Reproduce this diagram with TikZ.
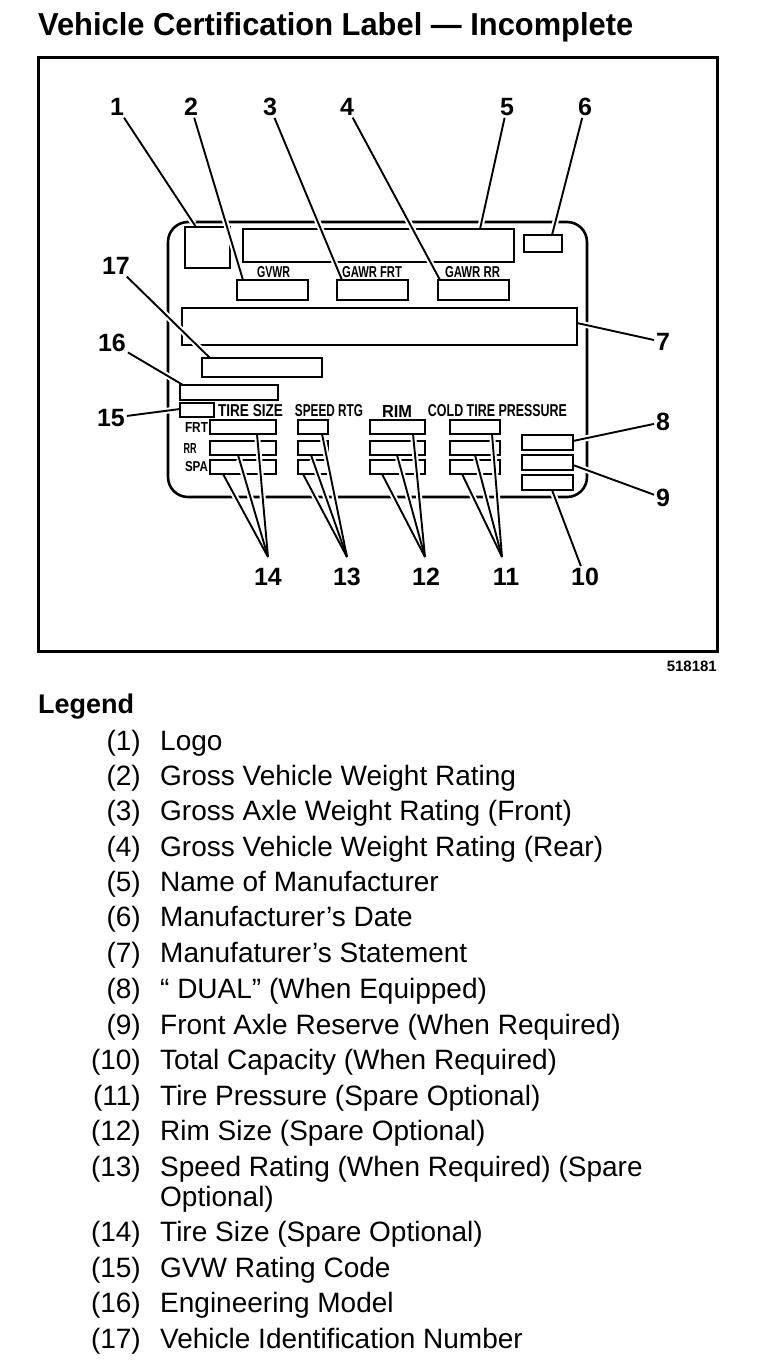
\documentclass[tikz,border=0pt]{standalone}
\usepackage{fontspec}
\setmainfont{Liberation Sans}
\setsansfont{Liberation Sans}
\usepackage{graphicx}
\usetikzlibrary{calc}
\newcommand{\fbx}[5]{\node[fld, minimum width=\fpeval{#4-#2}pt, minimum height=\fpeval{#5-#3}pt] (#1) at ({(#2+#4)/2},{(#3+#5)/2}) {};}
\newcommand{\stc}[3]{\resizebox{#1pt}{#2pt}{\bfseries #3}}
\begin{document}
\begin{tikzpicture}[x=1pt,y=-1pt,
  frm/.style={draw, line width=3pt},
  lbl/.style={draw, line width=2.6pt, rounded corners=20pt},
  fld/.style={draw, line width=2.4pt, inner sep=0pt, outer sep=0pt},
  lead/.style={line width=1.9pt},
  halo/.style={white, line width=6pt, shorten >=4pt},
  num/.style={font=\fontsize{25}{25}\selectfont\bfseries, inner sep=0pt, outer sep=2pt},
  stx/.style={inner sep=0pt},
  leg/.style={font=\fontsize{28}{30}\selectfont, inner sep=0pt, anchor=base west},
  legn/.style={font=\fontsize{28}{30}\selectfont, inner sep=0pt, anchor=base east}]
\useasboundingbox (0,0) rectangle (768,1366);
% title
\node[inner sep=0pt, anchor=base west] (title) at (38,35) {\resizebox{595pt}{23pt}{\bfseries Vehicle Certification Label — Incomplete}};
% outer frame
\node[frm, inner sep=0pt, minimum width=679pt, minimum height=594pt] (frame) at (377.5,354) {};
% label outline
\draw[lbl] (168,222) rectangle (587,497);
% boxes
\fbx{logo}{185}{227}{230}{268}
\fbx{name}{243}{229}{514}{262}
\fbx{date}{524}{235}{562}{252}
\fbx{gvwr}{237}{280}{308}{300}
\fbx{gawrf}{337}{280}{408}{300}
\fbx{gawrr}{438}{280}{509}{300}
\fbx{stmt}{182}{308}{577}{345}
\fbx{vin}{202}{358}{322}{377}
\fbx{eng}{180}{385}{278}{400}
\fbx{code}{180}{403}{214}{417}
\fbx{tsF}{210}{420}{276}{434}
\fbx{tsR}{210}{441}{276}{455}
\fbx{tsS}{210}{460}{276}{474}
\fbx{spF}{298}{420}{328}{434}
\fbx{spR}{298}{441}{328}{455}
\fbx{spS}{298}{460}{328}{474}
\fbx{rmF}{370}{420}{425}{434}
\fbx{rmR}{370}{441}{425}{455}
\fbx{rmS}{370}{460}{425}{474}
\fbx{ctF}{450}{420}{500}{434}
\fbx{ctR}{450}{441}{500}{455}
\fbx{ctS}{450}{460}{500}{474}
\fbx{dual}{522}{435}{573}{450}
\fbx{far}{522}{455}{573}{470}
\fbx{tot}{522}{475}{573}{490}
% small printed texts
\node[stx] (tgvwr) at (273.5,272) {\stc{33}{11}{GVWR}};
\node[stx] (tgawrf) at (372,272) {\stc{60}{11}{GAWR FRT}};
\node[stx] (tgawrr) at (472.5,272) {\stc{55}{11}{GAWR RR}};
\node[stx] (ttire) at (250.5,411) {\stc{65}{12}{TIRE SIZE}};
\node[stx] (tspeed) at (329,411) {\stc{68}{12}{SPEED RTG}};
\node[stx] (trim) at (397,411) {\stc{30}{12}{RIM}};
\node[stx] (tcold) at (497.5,411) {\stc{139}{12}{COLD TIRE PRESSURE}};
\node[stx] (tfrt) at (196.5,427) {\stc{23}{10}{FRT}};
\node[stx] (trr) at (190,448) {\stc{13}{10}{RR}};
\node[stx] (tspa) at (196.5,467) {\stc{23}{10}{SPA}};
% callout numbers
\node[num] (n1) at (117,107) {1};
\node[num] (n2) at (191,107) {2};
\node[num] (n3) at (270,107) {3};
\node[num] (n4) at (347,107) {4};
\node[num] (n5) at (507,107) {5};
\node[num] (n6) at (585,107) {6};
\node[num] (n7) at (663,342) {7};
\node[num] (n8) at (663,422) {8};
\node[num] (n9) at (663,498) {9};
\node[num] (n10) at (585,577) {10};
\node[num] (n11) at (506,577) {11};
\node[num] (n12) at (426,577) {12};
\node[num] (n13) at (347,577) {13};
\node[num] (n14) at (268,577) {14};
\node[num] (n15) at (111,418) {15};
\node[num] (n16) at (112,343) {16};
\node[num] (n17) at (116,266) {17};
% convergence points
\coordinate (c11) at (502,557);
\coordinate (c12) at (425,557);
\coordinate (c13) at (347,557);
\coordinate (c14) at (268,557);
% leader targets
\coordinate (e1) at ($(logo.north west)+(11,0)$);
\coordinate (e2) at ($(gvwr.north west)+(6,0)$);
\coordinate (e3) at ($(gawrf.north west)+(5,0)$);
\coordinate (e4) at ($(gawrr.north west)+(2,0)$);
\coordinate (e5) at ($(name.north east)+(-34,0)$);
\coordinate (e6) at ($(date.north west)+(28,0)$);
\coordinate (e7) at ($(stmt.north east)+(0,15)$);
\coordinate (e8) at ($(dual.north east)+(0,6)$);
\coordinate (e9) at ($(far.north east)+(0,10)$);
\coordinate (e10) at ($(tot.south west)+(30,0)$);
\coordinate (e11a) at ($(ctS.south west)+(12,0)$);
\coordinate (e11b) at ($(ctR.south west)+(25,0)$);
\coordinate (e11c) at ($(ctF.south west)+(42,0)$);
\coordinate (e12a) at ($(rmS.south west)+(12,0)$);
\coordinate (e12b) at ($(rmR.south west)+(27,0)$);
\coordinate (e12c) at ($(rmF.south west)+(43,0)$);
\coordinate (e13a) at ($(spS.south west)+(5,0)$);
\coordinate (e13b) at ($(spR.south west)+(13,0)$);
\coordinate (e13c) at ($(spF.south west)+(24,0)$);
\coordinate (e14a) at ($(tsS.south west)+(13,0)$);
\coordinate (e14b) at ($(tsR.south west)+(28,0)$);
\coordinate (e14c) at ($(tsF.south west)+(47,0)$);
\coordinate (e15) at ($(code.west)+(0,-1)$);
\coordinate (e16) at ($(eng.north west)+(3,0)$);
\coordinate (e17) at ($(vin.north west)+(8,0)$);
% halos (break crossed lines)
\foreach \a/\b in {n1/e1,n2/e2,n3/e3,n4/e4,n5/e5,n6/e6,n7/e7,n8/e8,n9/e9,n10/e10,
  c11/e11a,c11/e11b,c11/e11c,c12/e12a,c12/e12b,c12/e12c,c13/e13a,c13/e13b,c13/e13c,
  c14/e14a,c14/e14b,c14/e14c,n15/e15,n16/e16,n17/e17}
  \draw[halo] (\a) -- (\b);
% leaders
\foreach \a/\b in {n1/e1,n2/e2,n3/e3,n4/e4,n5/e5,n6/e6,n7/e7,n8/e8,n9/e9,n10/e10,
  c11/e11a,c11/e11b,c11/e11c,c12/e12a,c12/e12b,c12/e12c,c13/e13a,c13/e13b,c13/e13c,
  c14/e14a,c14/e14b,c14/e14c,n15/e15,n16/e16,n17/e17}
  \draw[lead] (\a) -- (\b);
% figure number
\node[inner sep=0pt, anchor=base east, font=\fontsize{15}{15}\selectfont\bfseries] (fig) at (717,671) {518181};
% legend
\node[inner sep=0pt, anchor=base west, font=\fontsize{27}{27}\selectfont\bfseries] (legend) at (38,713) {Legend};
\foreach \n/\t/\y in {1/Logo/750, 2/Gross Vehicle Weight Rating/785, 3/Gross Axle Weight Rating (Front)/820,
  4/Gross Vehicle Weight Rating (Rear)/856, 5/Name of Manufacturer/891, 6/Manufacturer's Date/926,
  7/Manufaturer's Statement/962, 8/“ DUAL” (When Equipped)/998, 9/Front Axle Reserve (When Required)/1034,
  10/Total Capacity (When Required)/1069, 11/Tire Pressure (Spare Optional)/1105, 12/Rim Size (Spare Optional)/1140,
  13/Speed Rating (When Required) (Spare/1176, 14/Tire Size (Spare Optional)/1241, 15/GVW Rating Code/1277,
  16/Engineering Model/1312, 17/Vehicle Identification Number/1348}
{
  \node[legn] (ln\n) at (141,\y) {(\n)};
  \node[leg] (lt\n) at (160,\y) {\t};
}
\node[leg] (lt13b) at (160,1206) {Optional)};
\end{tikzpicture}
\end{document}
